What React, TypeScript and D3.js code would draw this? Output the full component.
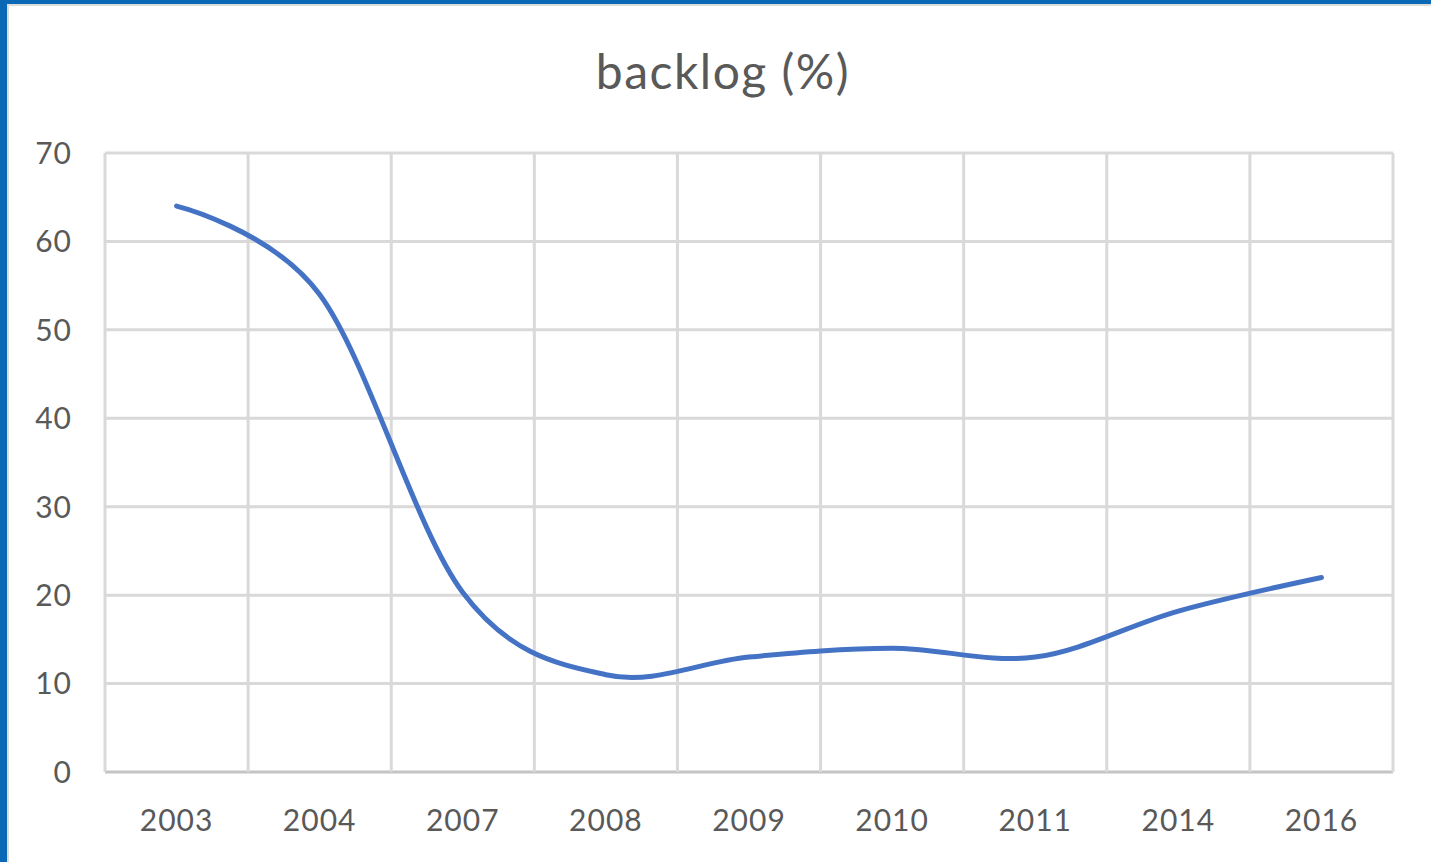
import React from "react";
import * as d3 from "d3";

const categories = ["2003", "2004", "2007", "2008", "2009", "2010", "2011", "2014", "2016"];
const backlog = [64, 54, 20.3, 11, 13, 14, 13, 18.2, 22];
const yTicks = [0, 10, 20, 30, 40, 50, 60, 70];
const title = "backlog (%)";

const W = 1431;
const H = 862;
const plot = { left: 105, right: 1393, top: 153, bottom: 772 };
const FONT = "Lato, 'Open Sans', sans-serif";
const TEXT = "#595959";
const GRID = "#d9d9d9";

export default function App() {
  const x = d3
    .scaleBand<string>()
    .domain(categories)
    .range([plot.left, plot.right])
    .paddingInner(0)
    .paddingOuter(0);
  const y = d3.scaleLinear().domain([0, 70]).range([plot.bottom, plot.top]);

  const line = d3
    .line<number>()
    .x((_, i) => (x(categories[i]) as number) + x.bandwidth() / 2)
    .y((d) => y(d))
    .curve(d3.curveCardinal.tension(0));

  const vLines = categories.map((c) => x(c) as number).concat([plot.right]);

  return (
    <div style={{ position: "fixed", left: 0, top: 0, width: W, height: H, background: "#fff" }}>
      <svg width={W} height={H} style={{ display: "block" }}>
        <rect x={0} y={0} width={W} height={H} fill="#fff" />
        {/* window frame */}
        <rect x={0} y={0} width={W} height={4} fill="#0a69b6" />
        <rect x={0} y={0} width={7} height={H} fill="#0a69b6" />
        <rect x={7} y={4} width={W - 7} height={2} fill="#dcdcdc" />
        <rect x={7} y={4} width={2} height={H - 4} fill="#dcdcdc" />

        <text
          x={723}
          y={89}
          textAnchor="middle"
          fontFamily={FONT}
          fontSize={48}
          letterSpacing={1.5}
          fill={TEXT}
        >
          {title}
        </text>

        {yTicks.map((t) => (
          <line
            key={"h" + t}
            x1={plot.left}
            x2={plot.right}
            y1={y(t)}
            y2={y(t)}
            stroke={t === 0 ? "#c4c4c4" : GRID}
            strokeWidth={3}
          />
        ))}
        {vLines.map((vx, i) => (
          <line
            key={"v" + i}
            x1={vx}
            x2={vx}
            y1={plot.top}
            y2={plot.bottom}
            stroke={GRID}
            strokeWidth={3}
          />
        ))}

        {yTicks.map((t) => (
          <text
            key={"yl" + t}
            x={72}
            y={y(t)}
            dy="0.36em"
            textAnchor="end"
            fontFamily={FONT}
            fontSize={30}
            letterSpacing={1}
            fill={TEXT}
          >
            {t}
          </text>
        ))}
        {categories.map((c) => (
          <text
            key={"xl" + c}
            x={(x(c) as number) + x.bandwidth() / 2}
            y={831}
            textAnchor="middle"
            fontFamily={FONT}
            fontSize={30}
            letterSpacing={1}
            fill={TEXT}
          >
            {c}
          </text>
        ))}

        <path
          d={line(backlog) || ""}
          fill="none"
          stroke="#4472c4"
          strokeWidth={5}
          strokeLinecap="round"
          strokeLinejoin="round"
        />
      </svg>
    </div>
  );
}
